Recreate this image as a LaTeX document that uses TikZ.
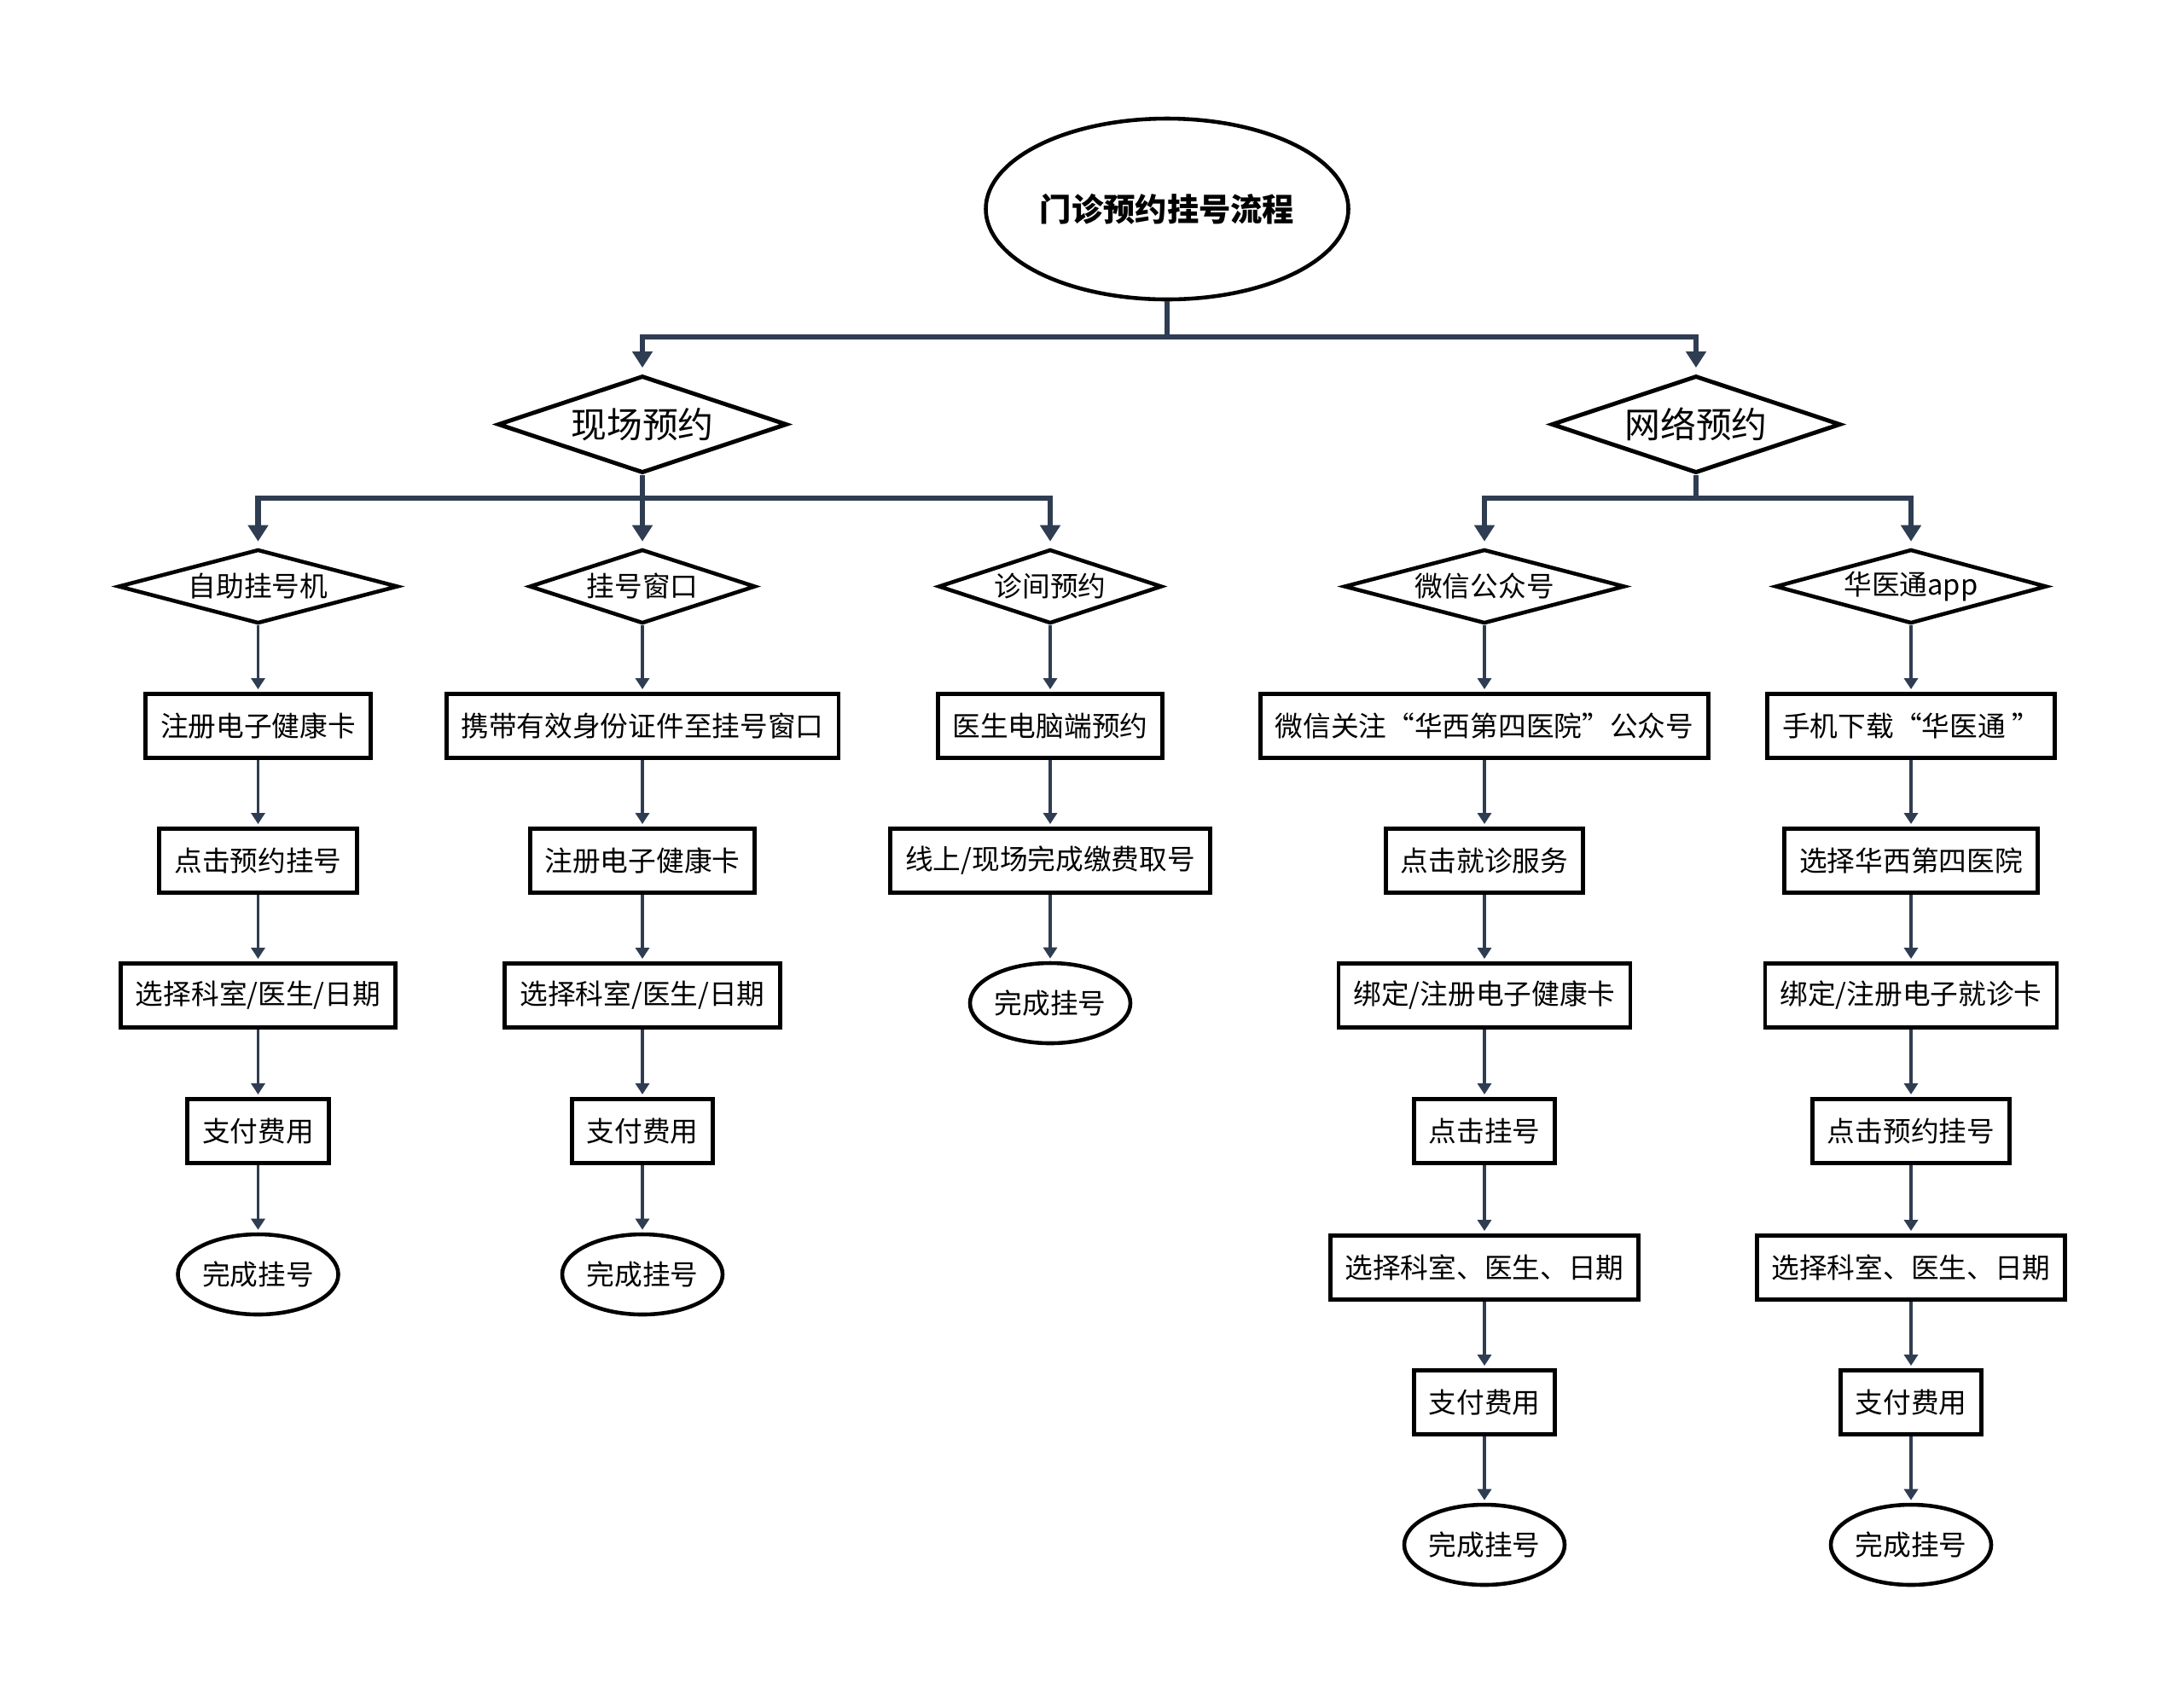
\documentclass[tikz,border=0pt]{standalone}
\usepackage{fontspec}
\setmainfont{Noto Sans CJK SC}
\usepackage{tikz}
\usetikzlibrary{shapes,
                arrows.meta,
                calc}
\definecolor{linecol}{HTML}{2F3D52}
\tikzstyle{start} = [ellipse, draw=black, line width=1.3pt, inner sep=0pt, minimum width=4.25cm, minimum height=2.12cm, font=\fontsize{10.6}{12}\selectfont\bfseries]
\tikzstyle{way} = [diamond, draw=black, line width=1.4pt, inner sep=0pt, shape aspect=2.97, minimum width=3.39cm, minimum height=1.14cm, font=\fontsize{11.9}{14}\selectfont]
\tikzstyle{io} = [diamond, draw=black, line width=1.3pt, inner sep=0pt, minimum height=0.87cm, font=\fontsize{9.3}{11}\selectfont]
\tikzstyle{process} = [rectangle, draw=black, line width=1.4pt, inner xsep=1.75mm, minimum height=0.75cm, font=\fontsize{9.3}{11}\selectfont]
\tikzstyle{stop} = [ellipse, draw=black, line width=1.3pt, inner sep=0pt, minimum width=1.88cm, minimum height=0.94cm, font=\fontsize{9.3}{11}\selectfont]
\tikzstyle{trunk} = [line width=1.9pt, draw=linecol]
\tikzstyle{branch} = [line width=1.9pt, draw=linecol, shorten >=0.7mm, -{Triangle[length=1.9mm,width=2.3mm]}]
\tikzstyle{arrow} = [line width=1.1pt, draw=linecol, shorten >=0.3mm, -{Triangle[length=1.3mm,width=1.6mm]}]

\begin{document}
\begin{tikzpicture}[scale=1]
\useasboundingbox (0,0) rectangle (25.6,-19.99);
\node[start] (title) at (13.68,-2.45) {门诊预约挂号流程};
\node[way] (onsite) at (7.53,-4.975) {现场预约};
\node[way] (online) at (19.88,-4.975) {网络预约};
\coordinate (bar0) at (13.68,-3.95);
\draw[trunk] (title) -- (bar0);
\draw[branch] (bar0) -| (onsite);
\draw[branch] (bar0) -| (online);

\node[io, shape aspect=3.79, minimum width=3.28cm] (a0) at (3.025,-6.875) {自助挂号机};
\node[io, shape aspect=3.06, minimum width=2.65cm] (b0) at (7.53,-6.875) {挂号窗口};
\node[io, shape aspect=3.02, minimum width=2.62cm] (c0) at (12.31,-6.875) {诊间预约};
\node[io, shape aspect=3.80, minimum width=3.29cm] (d0) at (17.40,-6.875) {微信公众号};
\node[io, shape aspect=3.68, minimum width=3.18cm] (e0) at (22.40,-6.875) {华医通app};
\coordinate (bar1) at (7.53,-5.84);
\coordinate (bar2) at (19.88,-5.84);
\draw[trunk] (onsite) -- (bar1);
\draw[branch] (bar1) -| (a0);
\draw[branch] (bar1) -- (b0);
\draw[branch] (bar1) -| (c0);
\draw[trunk] (online) -- (bar2);
\draw[branch] (bar2) -| (d0);
\draw[branch] (bar2) -| (e0);

\node[process] (a1) at (3.025,-8.51) {注册电子健康卡};
\node[process] (a2) at (3.025,-10.09) {点击预约挂号};
\node[process] (a3) at (3.025,-11.67) {选择科室/医生/日期};
\node[process] (a4) at (3.025,-13.26) {支付费用};
\node[stop] (a5) at (3.025,-14.94) {完成挂号};

\node[process] (b1) at (7.53,-8.51) {携带有效身份证件至挂号窗口};
\node[process] (b2) at (7.53,-10.09) {注册电子健康卡};
\node[process] (b3) at (7.53,-11.67) {选择科室/医生/日期};
\node[process] (b4) at (7.53,-13.26) {支付费用};
\node[stop] (b5) at (7.53,-14.94) {完成挂号};

\node[process] (c1) at (12.31,-8.51) {医生电脑端预约};
\node[process] (c2) at (12.31,-10.09) {线上/现场完成缴费取号};
\node[stop] (c3) at (12.31,-11.76) {完成挂号};

\node[process] (d1) at (17.40,-8.51) {微信关注“华西第四医院”公众号};
\node[process] (d2) at (17.40,-10.09) {点击就诊服务};
\node[process] (d3) at (17.40,-11.67) {绑定/注册电子健康卡};
\node[process] (d4) at (17.40,-13.26) {点击挂号};
\node[process] (d5) at (17.40,-14.86) {选择科室、医生、日期};
\node[process] (d6) at (17.40,-16.44) {支付费用};
\node[stop] (d7) at (17.40,-18.11) {完成挂号};

\node[process] (e1) at (22.40,-8.51) {手机下载“华医通 ”};
\node[process] (e2) at (22.40,-10.09) {选择华西第四医院};
\node[process] (e3) at (22.40,-11.67) {绑定/注册电子就诊卡};
\node[process] (e4) at (22.40,-13.26) {点击预约挂号};
\node[process] (e5) at (22.40,-14.86) {选择科室、医生、日期};
\node[process] (e6) at (22.40,-16.44) {支付费用};
\node[stop] (e7) at (22.40,-18.11) {完成挂号};

\draw[arrow] (a0) -- (a1);
\draw[arrow] (a1) -- (a2);
\draw[arrow] (a2) -- (a3);
\draw[arrow] (a3) -- (a4);
\draw[arrow] (a4) -- (a5);
\draw[arrow] (b0) -- (b1);
\draw[arrow] (b1) -- (b2);
\draw[arrow] (b2) -- (b3);
\draw[arrow] (b3) -- (b4);
\draw[arrow] (b4) -- (b5);
\draw[arrow] (c0) -- (c1);
\draw[arrow] (c1) -- (c2);
\draw[arrow] (c2) -- (c3);
\draw[arrow] (d0) -- (d1);
\draw[arrow] (d1) -- (d2);
\draw[arrow] (d2) -- (d3);
\draw[arrow] (d3) -- (d4);
\draw[arrow] (d4) -- (d5);
\draw[arrow] (d5) -- (d6);
\draw[arrow] (d6) -- (d7);
\draw[arrow] (e0) -- (e1);
\draw[arrow] (e1) -- (e2);
\draw[arrow] (e2) -- (e3);
\draw[arrow] (e3) -- (e4);
\draw[arrow] (e4) -- (e5);
\draw[arrow] (e5) -- (e6);
\draw[arrow] (e6) -- (e7);
\end{tikzpicture}
\end{document}
